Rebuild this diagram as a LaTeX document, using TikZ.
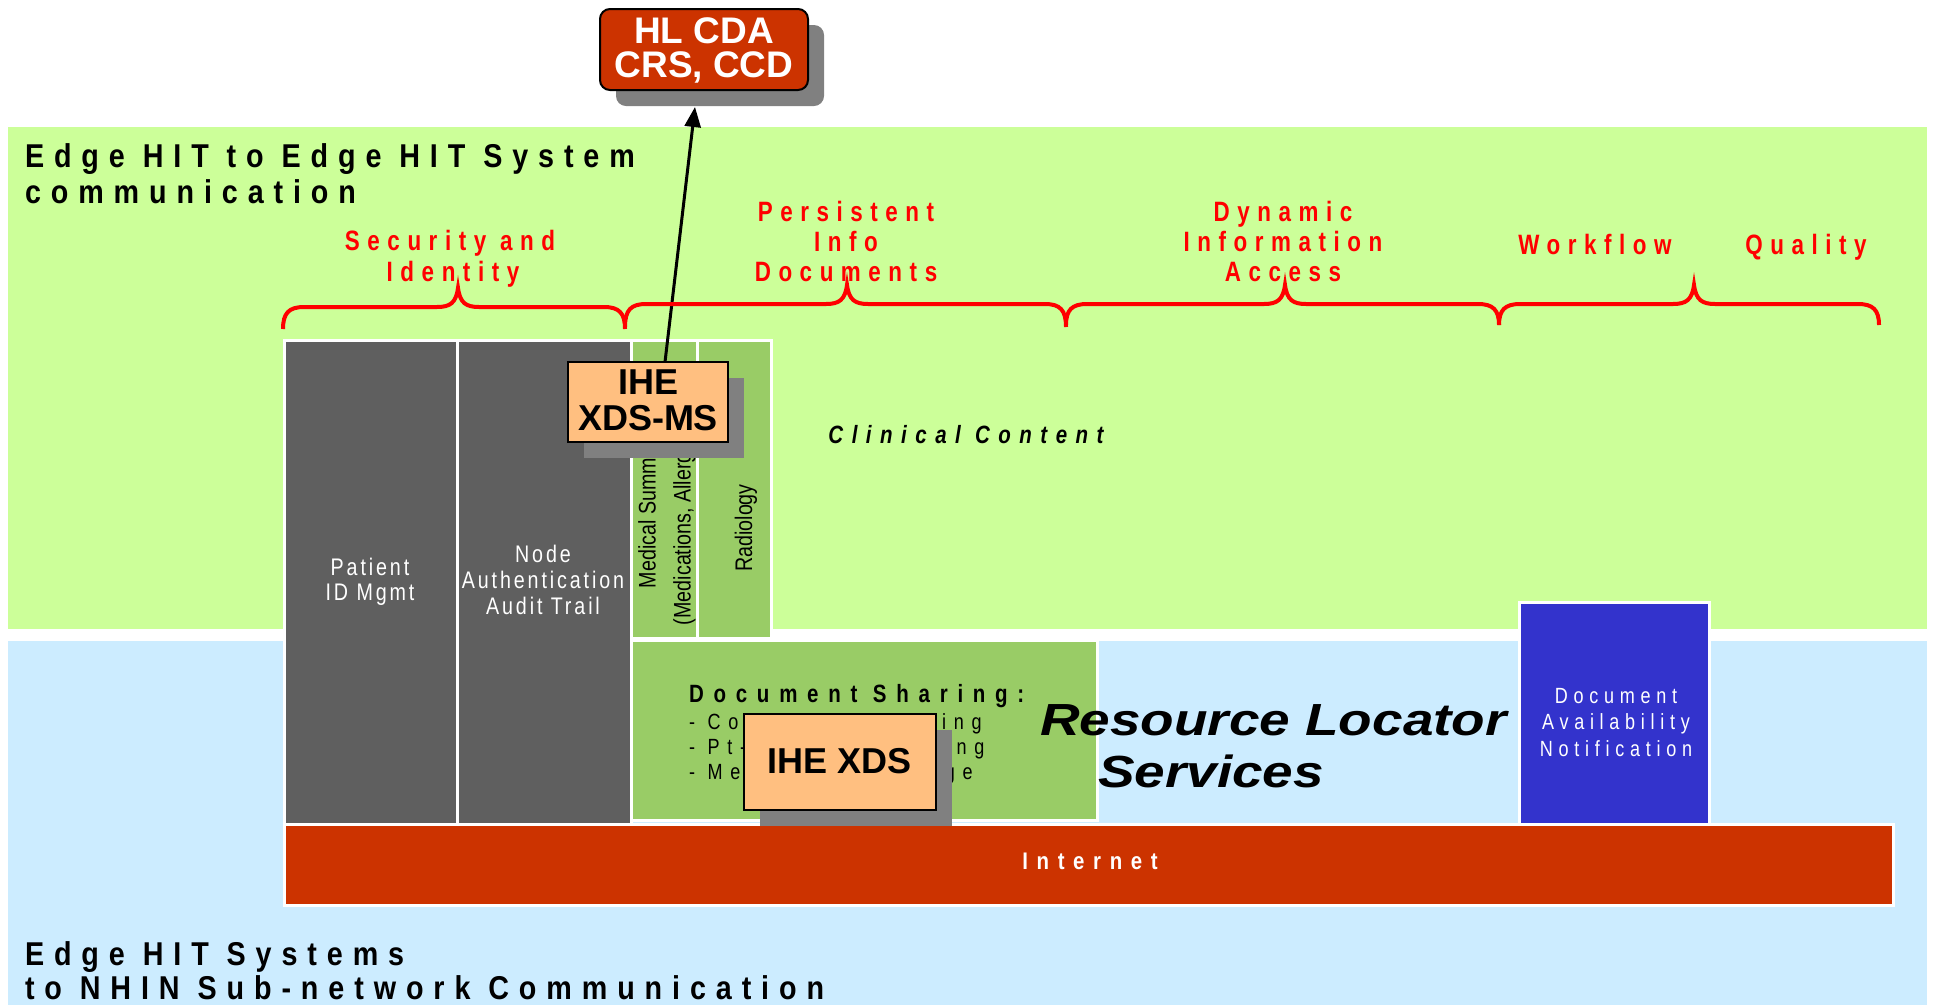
\documentclass[tikz,border=0pt]{standalone}
\usepackage{fontspec}
\setmainfont{Liberation Sans}
\newfontfamily\fTitle[FakeStretch=0.87,LetterSpace=30]{Liberation Sans}
\newfontfamily\fRed[FakeStretch=0.8,LetterSpace=27]{Liberation Sans}
\newfontfamily\fGray[FakeStretch=0.82,LetterSpace=12]{Liberation Sans}
\newfontfamily\fDan[FakeStretch=0.82,LetterSpace=26]{Liberation Sans}
\newfontfamily\fNet[FakeStretch=0.85,LetterSpace=36]{Liberation Sans}
\newfontfamily\fClin[FakeStretch=0.82,LetterSpace=34]{Liberation Sans}
\newfontfamily\fDoc[FakeStretch=0.82,LetterSpace=39]{Liberation Sans}
\newfontfamily\fList[FakeStretch=0.82,LetterSpace=35]{Liberation Sans}
\newfontfamily\fNar[FakeStretch=0.82]{Liberation Sans}
\newfontfamily\fWide[FakeStretch=1.22]{Liberation Sans}
\usetikzlibrary{arrows.meta}
\definecolor{bandgreen}{HTML}{CCFF99}
\definecolor{bandblue}{HTML}{CCECFF}
\definecolor{midgreen}{HTML}{99CC66}
\definecolor{boxgray}{HTML}{5F5F5F}
\definecolor{peach}{HTML}{FFBF80}
\definecolor{shadowgray}{HTML}{808080}
\definecolor{brick}{HTML}{CC3300}
\definecolor{royal}{HTML}{3333CC}
\definecolor{redtxt}{HTML}{FF0000}
\newcommand\redbrace[6]{% x1, x2, xtip, yflat, yend, ytip
  \draw[bracestyle] (#1,#5) .. controls (#1,#4+6) and (#1+6,#4) .. (#1+21,#4)
    -- (#3-21,#4) .. controls (#3-8,#4) and (#3-2,#4-4) .. (#3,#6)
    .. controls (#3+2,#4-4) and (#3+8,#4) .. (#3+21,#4)
    -- (#2-21,#4) .. controls (#2-6,#4) and (#2,#4+6) .. (#2,#5);}
\begin{document}
\begin{tikzpicture}[x=1pt,y=-1pt,
  wbox/.style={draw=white, line width=3pt, inner sep=0pt, outer sep=0pt},
  ihebox/.style={draw=black, line width=2.5pt, fill=peach, inner sep=0pt, outer sep=0pt},
  shadowbox/.style={fill=shadowgray, inner sep=0pt, outer sep=0pt},
  bracestyle/.style={draw=redtxt, line width=4pt},
  txt/.style={inner sep=0pt, outer sep=0pt},
  titletxt/.style={txt, anchor=base west, font=\fTitle\bfseries\fontsize{33}{37}\selectfont},
  redlbl/.style={txt, anchor=base, text=redtxt, font=\fRed\bfseries\fontsize{28}{30}\selectfont},
  graytxt/.style={txt, anchor=base, text=white, font=\fGray\fontsize{24}{26}\selectfont},
  dantxt/.style={txt, anchor=base, text=white, font=\fDan\fontsize{22}{26}\selectfont},
  listtxt/.style={txt, anchor=base west, font=\fList\fontsize{22}{25}\selectfont},
  ihetxt/.style={txt, anchor=base, font=\bfseries\fontsize{36}{36}\selectfont},
  hltxt/.style={txt, anchor=base, text=white, font=\bfseries\fontsize{37}{37}\selectfont},
  rlstxt/.style={txt, anchor=base west, font=\fWide\bfseries\itshape\fontsize{45}{48}\selectfont},
  rottxt/.style={txt, rotate=90, font=\fNar\fontsize{24}{26}\selectfont}
]
\useasboundingbox (0,0) rectangle (1933,1005);
\fill[white] (0,0) rectangle (1933,1005);
% bands
\fill[bandgreen] (8,127) rectangle (1927,629);
\fill[bandblue] (8,641) rectangle (1927,1005);

% titles
\node[titletxt] (t1a) at (25,167) {Edge HIT to Edge HIT System};
\node[titletxt] (t1b) at (25,203) {communication};
\node[titletxt] (t2a) at (25,965) {Edge HIT Systems};
\node[titletxt] (t2b) at (25,999) {to NHIN Sub-network Communication};

% gray columns
\node[wbox, fill=boxgray, minimum width=173pt, minimum height=484pt] (patient) at (370.5,582) {};
\node[wbox, fill=boxgray, minimum width=174pt, minimum height=484pt] (nodeauth) at (544,582) {};
\node[graytxt] (pa1) at (370,575) {Patient};
\node[graytxt] (pa2) at (370,600) {ID Mgmt};
\node[graytxt] (na1) at (543,562) {Node};
\node[graytxt] (na2) at (543,588) {Authentication};
\node[graytxt] (na3) at (543,614) {Audit Trail};

% clinical content columns
\node[wbox, fill=midgreen, minimum width=66pt, minimum height=298pt] (medsum) at (664,489) {};
\node[wbox, fill=midgreen, minimum width=74pt, minimum height=298pt] (radio) at (734,489) {};
\node[rottxt, anchor=base west] (ms1) at (655.5,588) {Medical Summary};
\node[rottxt, anchor=base west] (ms2) at (690.5,625) {(Medications, Allergies)};
\node[rottxt, anchor=base] (rad) at (752,528) {Radiology};
\node[txt, anchor=base, font=\fClin\bfseries\itshape\fontsize{25}{28}\selectfont] (clin) at (966,443) {Clinical Content};

% document sharing
\node[wbox, fill=midgreen, minimum width=466pt, minimum height=180pt] (docshare) at (864,730) {};
\node[txt, anchor=base west, font=\fDoc\bfseries\fontsize{25}{28}\selectfont] (dsh) at (689,702) {Document Sharing:};
\node[listtxt] (ds1) at (689,729) {- Community Sharing};
\node[listtxt] (ds2) at (689,754) {- Pt-to-Pt Messaging};
\node[listtxt] (ds3) at (689,779) {- Media Interchange};

% resource locator
\node[rlstxt] (rl1) at (1040,735) {Resource Locator};
\node[rlstxt] (rl2) at (1098,787) {Services};

% document availability notification
\node[wbox, fill=royal, minimum width=190pt, minimum height=222pt] (dan) at (1614,713) {};
\node[dantxt] (dan1) at (1616,703) {Document};
\node[dantxt] (dan2) at (1616,729) {Availability};
\node[dantxt] (dan3) at (1616,756) {Notification};

% internet
\node[wbox, fill=brick, minimum width=1609pt, minimum height=81pt] (internet) at (1088.5,864.5) {};
\node[txt, anchor=base, text=white, font=\fNet\bfseries\fontsize{24}{26}\selectfont] (inet) at (1090,869) {Internet};

% IHE XDS
\node[shadowbox, minimum width=192pt, minimum height=96pt] (xdsshadow) at (856,778) {};
\node[ihebox, minimum width=192pt, minimum height=96pt] (xds) at (840,762) {};
\node[ihetxt] (xdst) at (840,773) {IHE XDS};

% IHE XDS-MS
\node[shadowbox, minimum width=160pt, minimum height=80pt] (msshadow) at (664,418) {};
\node[ihebox, minimum width=160pt, minimum height=80pt] (xdsms) at (648,402) {};
\node[ihetxt] (ms1t) at (648,394) {IHE};
\node[ihetxt] (ms2t) at (648,430) {XDS-MS};

% HL CDA
\node[shadowbox, rounded corners=10pt, minimum width=208pt, minimum height=81pt] (hlshadow) at (720,65.5) {};
\node[fill=brick, draw=black, line width=2pt, rounded corners=10pt, inner sep=0pt, minimum width=208pt, minimum height=81pt] (hl) at (704,49.5) {};
\node[hltxt] (hl1) at (704,43) {HL CDA};
\node[hltxt] (hl2) at (704,77) {CRS, CCD};

% arrow
\coordinate (msTop) at (665,362);
\coordinate (hlTip) at (695,107);
\draw[line width=3pt, -{Triangle[length=20pt,width=16pt]}] (msTop) -- (hlTip);

% braces
\redbrace{283}{625}{458}{307}{329}{288}
\redbrace{625}{1066}{847}{304}{327}{285}
\redbrace{1066}{1499}{1285}{304}{325}{285}
\redbrace{1499}{1879}{1694}{304}{325}{285}

% red labels
\node[redlbl] (s1) at (450,250) {Security and};
\node[redlbl] (s2) at (453,281) {Identity};
\node[redlbl] (p1) at (846,221) {Persistent};
\node[redlbl] (p2) at (846,251) {Info};
\node[redlbl] (p3) at (846,281) {Documents};
\node[redlbl] (d1) at (1283,221) {Dynamic};
\node[redlbl] (d2) at (1283,251) {Information};
\node[redlbl] (d3) at (1283,281) {Access};
\node[redlbl] (wf) at (1595,254) {Workflow};
\node[redlbl] (q) at (1806,254) {Quality};
\end{tikzpicture}
\end{document}
